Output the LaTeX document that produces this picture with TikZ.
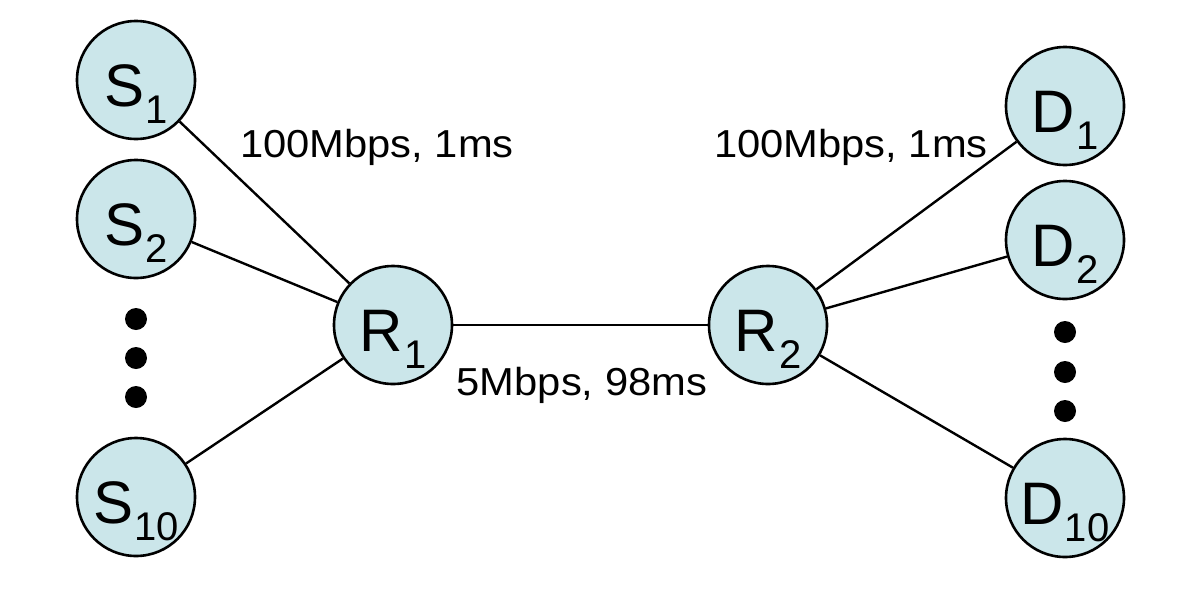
\documentclass[tikz,border=0pt]{standalone}
\usepackage{fontspec}
\setmainfont{Liberation Sans}
\definecolor{nodefill}{RGB}{203,230,234}
\newcommand{\nlab}[2]{{\fontsize{30}{31}\selectfont #1}\kern0.5pt\raisebox{-8.5pt}{\fontsize{20}{21}\selectfont #2}}
\newcommand{\elab}[1]{\scalebox{1.07}[1]{\fontsize{19.5}{21}\selectfont #1}}
\tikzset{
  host/.style={circle, draw, line width=1.3pt, fill=nodefill, minimum size=59pt, inner sep=0pt, text height=26pt, text depth=0pt},
  link/.style={line width=1.2pt},
  lbl/.style={anchor=base, inner sep=0pt},
  vdot/.style={circle, fill=black, inner sep=0pt, minimum size=11pt}
}
\begin{document}
\begin{tikzpicture}[x=0.5pt,y=-0.5pt]
\useasboundingbox (0,0) rectangle (1200,590);
\node[host] (S1) at (136,80) {\nlab{S}{1}};
\node[host] (S2) at (136,219) {\nlab{S}{2}};
\node[host] (S10) at (136,497) {\nlab{S}{10}};
\node[host] (R1) at (393,325) {\nlab{R}{1}};
\node[host] (R2) at (768,325) {\nlab{R}{2}};
\node[host] (D1) at (1065,106) {\nlab{D}{1}};
\node[host] (D2) at (1065,240) {\nlab{D}{2}};
\node[host] (D10) at (1065,498) {\nlab{D}{10}};
\node[vdot] (ls1) at (136,319) {};
\node[vdot] (ls2) at (136,358) {};
\node[vdot] (ls3) at (136,397) {};
\node[vdot] (rd1) at (1065,332) {};
\node[vdot] (rd2) at (1065,372) {};
\node[vdot] (rd3) at (1065,411) {};
\draw[link] (S1) -- (R1);
\draw[link] (S2) -- (R1);
\draw[link] (S10) -- (R1);
\draw[link] (R1) -- (R2);
\draw[link] (R2) -- (D1);
\draw[link] (R2) -- (D2);
\draw[link] (R2) -- (D10);
\node[lbl] (l1) at (377,157) {\elab{100Mbps, 1ms}};
\node[lbl] (l2) at (851,157) {\elab{100Mbps, 1ms}};
\node[lbl] (l3) at (582,395) {\elab{5Mbps, 98ms}};
\end{tikzpicture}
\end{document}
